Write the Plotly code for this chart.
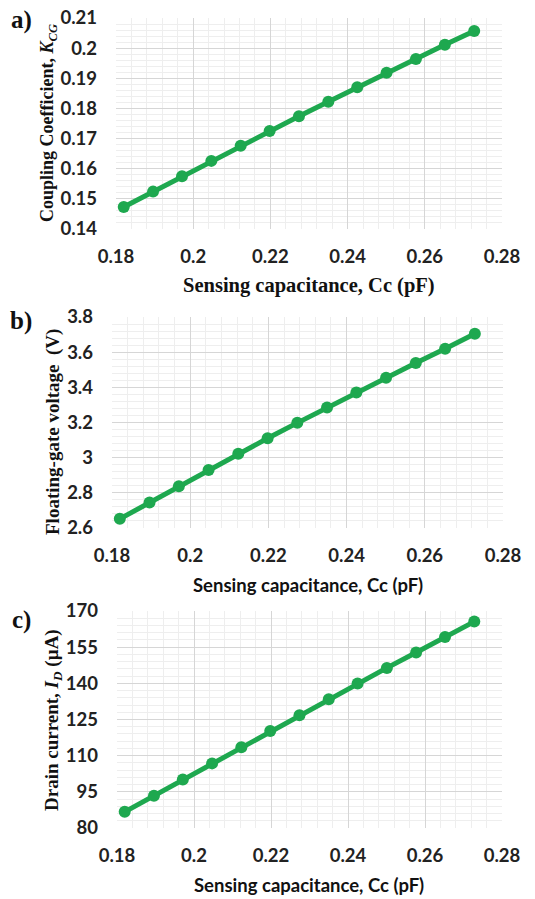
import plotly.graph_objects as go

W, H = 535, 899

cc = [0.1820, 0.1896, 0.1971, 0.2047, 0.2123, 0.2198, 0.2274, 0.2350, 0.2425, 0.2501, 0.2577, 0.2652, 0.2728]
kcg = [0.1473, 0.1524, 0.1575, 0.1626, 0.1676, 0.1725, 0.1774, 0.1822, 0.1870, 0.1918, 0.1964, 0.2011, 0.2057]
vfg = [2.652, 2.745, 2.838, 2.930, 3.022, 3.110, 3.198, 3.285, 3.370, 3.455, 3.538, 3.620, 3.705]
idr = [86.7, 93.4, 100.1, 106.8, 113.5, 120.2, 126.8, 133.4, 139.9, 146.4, 152.8, 159.2, 165.6]

x_ticks = [0.18, 0.2, 0.22, 0.24, 0.26, 0.28]

GREEN = "#1ea84f"
TICKFONT = dict(family="Lato", size=18.5, color="#222222", weight="bold")
TIMES = "Liberation Serif"

def px(x):
    return x / W

def py(y):
    return 1 - y / H

# panels: (values, y-range, dtick, minor dtick, x-pixel span, y-pixel span)
panels = [
    (kcg, [0.14, 0.21], 0.01, 0.002, (116, 502), (18, 229)),
    (vfg, [2.6, 3.8], 0.2, 0.04, (112, 503), (317, 528)),
    (idr, [80, 170], 15, 3, (117, 502), (611, 828)),
]

fig = go.Figure()
for i, (vals, yr, dt, mdt, (x0, x1), (y0, y1)) in enumerate(panels):
    n = "" if i == 0 else str(i + 1)
    fig.add_trace(go.Scatter(
        x=cc, y=vals, mode="lines+markers",
        line=dict(color=GREEN, width=5),
        marker=dict(color=GREEN, size=12),
        xaxis="x" + n, yaxis="y" + n, showlegend=False))
    fig.layout["xaxis" + n] = dict(
        domain=[px(x0), px(x1)], anchor="y" + n, range=[0.18, 0.28],
        tickvals=x_ticks, showgrid=True, gridcolor="#d6d6d6", gridwidth=1,
        minor=dict(dtick=0.004, tick0=0.18, showgrid=True, gridcolor="#eeeeee"),
        zeroline=False, showline=False, tickfont=TICKFONT, automargin=False,
        ticks="", ticklabelstandoff=14, ticklabeloverflow="allow")
    fig.layout["yaxis" + n] = dict(
        domain=[py(y1), py(y0)], anchor="x" + n, range=yr,
        dtick=dt, tick0=yr[0], showgrid=True, gridcolor="#d6d6d6", gridwidth=1,
        minor=dict(dtick=mdt, tick0=yr[0], showgrid=True, gridcolor="#eeeeee"),
        zeroline=False, showline=False, tickfont=TICKFONT, automargin=False,
        ticks="", ticklabelstandoff=18, ticklabeloverflow="allow")

ann = []
def A(text, x, y, size, family, angle=0, weight="bold", yanchor="middle"):
    ann.append(dict(text=text, x=px(x), y=py(y), xref="paper", yref="paper",
                    showarrow=False, textangle=angle, xanchor="center", yanchor=yanchor,
                    font=dict(family=family, size=size, color="#111111", weight=weight)))

A("a)", 21, 4, 25, TIMES, yanchor="top")
A("b)", 21, 305, 25, TIMES, yanchor="top")
A("c)", 21, 604, 25, TIMES, yanchor="top")

A("Sensing capacitance, Cc (pF)", 309, 285, 20.5, TIMES)
A("Sensing capacitance, Cc (pF)", 308, 585, 18.5, "Lato")
A("Sensing capacitance, Cc (pF)", 309, 885, 18.5, "Lato")

A("Coupling Coefficient, <i>K<sub>CG</sub></i>", 48, 123, 18, TIMES, -90)
A("Floating-gate voltage  (V)", 53, 432, 19, TIMES, -90)
A("Drain current, <i>I<sub>D</sub></i> (µA)", 53, 720, 19, TIMES, -90)

fig.update_layout(
    width=W, height=H, margin=dict(l=0, r=0, t=0, b=0, autoexpand=False),
    paper_bgcolor="white", plot_bgcolor="white", annotations=ann)

# remove the page's default body margin so the figure fills the window exactly
fig.write_html("out.html", config={"displayModeBar": False},
               post_script="document.body.style.margin='0';document.body.style.overflow='hidden';")
